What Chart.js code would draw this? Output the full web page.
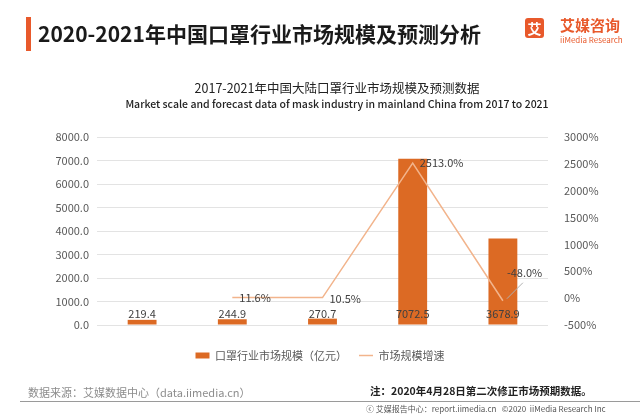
<!DOCTYPE html>
<html>
<head>
<meta charset="utf-8">
<script src="https://cdn.jsdelivr.net/npm/chart.js@4"></script>
<style>
  body { margin: 0; background: #fff; font-family: 'Noto Sans CJK SC', 'Noto Sans', sans-serif; }
  #page { position: relative; width: 640px; height: 416px; overflow: hidden; background: #fff; }
  #page canvas { position: absolute; left: 0; top: 0; }
  .abs { position: absolute; white-space: nowrap; }
  .accent { left: 26px; top: 17px; width: 5px; height: 34px; background: #e8592b; }
  .title { left: 38px; top: 19px; font-size: 21px; font-weight: bold; color: #1a1a1a; line-height: 28px; }
  .logo-box { left: 525px; top: 18px; width: 19px; height: 20px; background: #e8592b; border-radius: 3px;
              color: #fff; font-size: 14px; font-weight: bold; line-height: 20px; text-align: center; }
  .logo-cn { left: 560px; top: 15px; font-size: 15px; font-weight: bold; color: #e8592b; line-height: 20px; }
  .logo-en { left: 560px; top: 35px; font-size: 8px; color: #e8592b; line-height: 10px; }
  .ctitle { left: 137px; width: 400px; text-align: center; top: 80px; font-size: 12.5px; color: #222; line-height: 16px; }
  .csub { left: 87px; width: 500px; text-align: center; top: 96px; font-size: 10.5px; font-weight: 500; color: #222; line-height: 16px; }
  .source { left: 28px; top: 384px; font-size: 11px; color: #8c8c8c; line-height: 16px; }
  .note { left: 370px; top: 383px; font-size: 10.5px; font-weight: bold; color: #222; line-height: 16px; }
  .rule { left: 20px; top: 401px; width: 620px; height: 1px; background: #9a9a9a; }
  .credit { left: 366px; top: 403px; font-size: 8px; color: #555; line-height: 12px; }
</style>
</head>
<body>
<div id="page">
  <canvas id="maskChart" width="640" height="416"></canvas>
  <div class="abs accent"></div>
  <div class="abs title">2020-2021年中国口罩行业市场规模及预测分析</div>
  <div class="abs logo-box">艾</div>
  <div class="abs logo-cn">艾媒咨询</div>
  <div class="abs logo-en">iiMedia Research</div>
  <div class="abs ctitle">2017-2021年中国大陆口罩行业市场规模及预测数据</div>
  <div class="abs csub">Market scale and forecast data of mask industry in mainland China from 2017 to 2021</div>
  <div class="abs source">数据来源：艾媒数据中心（data.iimedia.cn）</div>
  <div class="abs note">注：2020年4月28日第二次修正市场预期数据。</div>
  <div class="abs rule"></div>
  <div class="abs credit">ⓒ 艾媒报告中心：report.iimedia.cn &nbsp; ©2020 &nbsp;iiMedia Research Inc</div>
</div>
<script>
// chart data
const years = ['2017', '2018', '2019', '2020E', '2021E'];
const marketSize = [219.4, 244.9, 270.7, 7072.5, 3678.9];   // 亿元
const growthRate = [null, 11.6, 10.5, 2513.0, -48.0];       // %

const BAR_COLOR = '#dc6a24';
const LINE_COLOR = '#f2b48c';
const TEXT_COLOR = '#595959';
const FONT = "'Noto Sans CJK SC', 'Noto Sans', sans-serif";

// draws the value labels (no datalabels plugin available offline)
const valueLabels = {
    id: 'valueLabels',
    afterDatasetsDraw(chart, args, opts) {
        const ctx = chart.ctx;
        const yScale = chart.scales.y;
        ctx.save();
        ctx.font = `11px ${FONT}`;
        ctx.fillStyle = '#404040';

        // bar labels sit just above the baseline
        const barMeta = chart.getDatasetMeta(0);
        ctx.textAlign = 'center';
        ctx.textBaseline = 'middle';
        barMeta.data.forEach((bar, i) => {
            ctx.fillText(marketSize[i].toFixed(1), bar.x, yScale.getPixelForValue(0) - 11);
        });

        // growth labels to the right of each point
        const lineMeta = chart.getDatasetMeta(1);
        ctx.textAlign = 'left';
        lineMeta.data.forEach((pt, i) => {
            if (growthRate[i] === null) return;
            const off = opts.lineOffsets[i] || [7, 0];
            const tx = pt.x + off[0];
            const ty = pt.y + off[1];
            if (off[2]) {
                ctx.strokeStyle = '#b0b0b0';
                ctx.lineWidth = 1;
                ctx.beginPath();
                ctx.moveTo(pt.x + 4, pt.y - 2);
                ctx.lineTo(tx + 16, ty + 10);
                ctx.stroke();
            }
            ctx.fillText(growthRate[i].toFixed(1) + '%', tx, ty);
        });
        ctx.restore();
    }
};

new Chart(document.getElementById('maskChart'), {
    type: 'bar',
    data: {
        labels: years,
        datasets: [{
            label: '口罩行业市场规模（亿元）',
            data: marketSize,
            backgroundColor: BAR_COLOR,
            borderWidth: 0,
            barPercentage: 0.4,
            categoryPercentage: 0.8,
            pointStyle: 'rect',
            yAxisID: 'y',
            order: 1
        }, {
            type: 'line',
            label: '市场规模增速',
            data: growthRate,
            borderColor: LINE_COLOR,
            backgroundColor: LINE_COLOR,
            borderWidth: 1.5,
            pointRadius: 0,
            pointStyle: 'line',
            tension: 0,
            spanGaps: false,
            yAxisID: 'y1',
            order: 0
        }]
    },
    options: {
        responsive: false,
        animation: false,
        layout: {
            padding: { top: 137, left: 0, right: 0, bottom: 45 }
        },
        plugins: {
            title: { display: false },
            tooltip: { enabled: false },
            legend: {
                position: 'bottom',
                labels: {
                    usePointStyle: true,
                    pointStyleWidth: 14,
                    boxHeight: 6,
                    padding: 12,
                    color: TEXT_COLOR,
                    font: { family: FONT, size: 11 },
                    sort: (a, b) => a.datasetIndex - b.datasetIndex
                }
            },
            valueLabels: {
                lineOffsets: [null, [7, 0], [7, 1], [7, 0], [4, -28, true]]
            }
        },
        scales: {
            x: {
                grid: { display: false },
                border: { display: false },
                ticks: { color: TEXT_COLOR, padding: 6, font: { family: FONT, size: 11 } },
                afterFit: scale => { scale.height = 13; }
            },
            y: {
                position: 'left',
                min: 0,
                max: 8000,
                ticks: {
                    stepSize: 1000,
                    padding: 8,
                    color: TEXT_COLOR,
                    font: { family: FONT, size: 11 },
                    callback: v => v.toFixed(1)
                },
                grid: { color: '#e3e3e3', drawTicks: false },
                border: { display: false },
                afterFit: scale => { scale.width = 97; }
            },
            y1: {
                position: 'right',
                min: -500,
                max: 3000,
                ticks: {
                    stepSize: 500,
                    padding: 8,
                    color: TEXT_COLOR,
                    font: { family: FONT, size: 11 },
                    callback: v => v + '%'
                },
                grid: { display: false },
                border: { display: false },
                afterFit: scale => { scale.width = 92; }
            }
        }
    },
    plugins: [valueLabels]
});
</script>
</body>
</html>
